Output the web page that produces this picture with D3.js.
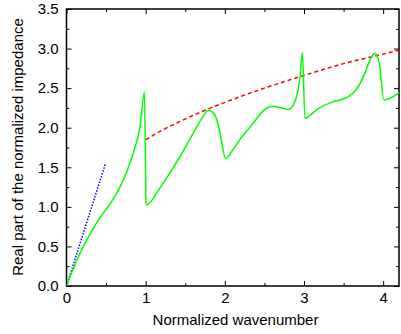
<!DOCTYPE html>
<html>
<head>
<meta charset="utf-8">
<script src="https://cdn.jsdelivr.net/npm/d3@7"></script>
<style>
  html, body { margin: 0; padding: 0; background: #fff; }
  svg { display: block; }
  text { font-family: "Liberation Sans", Arial, sans-serif; fill: #000; }
</style>
</head>
<body>
<svg id="chart" width="401" height="334"></svg>
<script>
// ---- data ----
const greenX = [0, 0.086, 0.17, 0.255, 0.34, 0.42, 0.51, 0.59, 0.675, 0.76, 0.84, 0.93, 0.985, 1.005, 1.012,
  1.18, 1.3, 1.43, 1.60, 1.73, 1.79, 1.875, 1.94, 2.01, 2.1, 2.19, 2.36, 2.49, 2.61, 2.72, 2.80, 2.885, 2.95, 2.98,
  3.012, 3.16, 3.37, 3.54, 3.66, 3.77, 3.85, 3.90, 3.95, 4.01, 4.2];
const greenY = [0, 0.22, 0.41, 0.58, 0.73, 0.86, 0.98, 1.10, 1.25, 1.44, 1.67, 2.02, 2.45, 1.05, 1.025,
  1.24, 1.42, 1.63, 1.93, 2.15, 2.22, 2.16, 1.93, 1.61, 1.72, 1.85, 2.06, 2.22, 2.27, 2.25, 2.23, 2.33, 2.65, 2.95,
  2.12, 2.23, 2.33, 2.38, 2.48, 2.69, 2.89, 2.94, 2.82, 2.35, 2.44];
const redX = [1.0, 1.25, 1.5, 1.75, 2.0, 2.5, 3.0, 3.5, 4.0, 4.2];
const redY = [1.85, 1.99, 2.11, 2.22, 2.32, 2.50, 2.66, 2.81, 2.93, 2.98];
const blueX = [0, 0.49];
const blueY = [0, 1.54];
const xTicks = [0, 1, 2, 3, 4];
const xMinorTicks = [0.5, 1.5, 2.5, 3.5];
const yTicks = [0, 0.5, 1.0, 1.5, 2.0, 2.5, 3.0, 3.5];
const yMinorTicks = [0.25, 0.75, 1.25, 1.75, 2.25, 2.75, 3.25];
const xLabel = "Normalized wavenumber";
const yLabel = "Real part of the normalized impedance";

// ---- chart ----
const svg = d3.select("#chart");
const L = 66.5, R = 399, T = 9, B = 286;
const x = d3.scaleLinear().domain([0, 4.2]).range([L, R]);
const y = d3.scaleLinear().domain([0, 3.5]).range([B, T]);

function styleAxis(g) {
  g.select(".domain").remove();
  g.selectAll("line").attr("stroke", "#000").attr("stroke-width", 1);
  g.selectAll("text").style("font-size", "15px").style("font-family", '"Liberation Sans", Arial, sans-serif');
}

// bottom
svg.append("g").attr("transform", `translate(0,${B})`)
  .call(d3.axisBottom(x).tickValues(xTicks).tickFormat(d3.format("d")).tickSize(-5).tickPadding(6))
  .call(styleAxis);
svg.append("g").attr("transform", `translate(0,${B})`)
  .call(d3.axisBottom(x).tickValues(xMinorTicks).tickFormat("").tickSize(-3))
  .call(styleAxis);
// top
svg.append("g").attr("transform", `translate(0,${T})`)
  .call(d3.axisTop(x).tickValues(xTicks).tickFormat("").tickSize(-5))
  .call(styleAxis);
svg.append("g").attr("transform", `translate(0,${T})`)
  .call(d3.axisTop(x).tickValues(xMinorTicks).tickFormat("").tickSize(-3))
  .call(styleAxis);
// left
svg.append("g").attr("transform", `translate(${L},0)`)
  .call(d3.axisLeft(y).tickValues(yTicks).tickFormat(d3.format(".1f")).tickSize(-5).tickPadding(8))
  .call(styleAxis);
svg.append("g").attr("transform", `translate(${L},0)`)
  .call(d3.axisLeft(y).tickValues(yMinorTicks).tickFormat("").tickSize(-3))
  .call(styleAxis);
// right
svg.append("g").attr("transform", `translate(${R},0)`)
  .call(d3.axisRight(y).tickValues(yTicks).tickFormat("").tickSize(-5))
  .call(styleAxis);
svg.append("g").attr("transform", `translate(${R},0)`)
  .call(d3.axisRight(y).tickValues(yMinorTicks).tickFormat("").tickSize(-3))
  .call(styleAxis);

// frame
svg.append("rect").attr("x", L).attr("y", T).attr("width", R - L).attr("height", B - T)
  .attr("fill", "none").attr("stroke", "#000").attr("stroke-width", 1.5);

svg.append("clipPath").attr("id", "clip").append("rect")
  .attr("x", L).attr("y", T).attr("width", R - L).attr("height", B - T);

const plot = svg.append("g").attr("clip-path", "url(#clip)");

const straight = d3.line().x(d => x(d[0])).y(d => y(d[1]));
const smooth = d3.line().x(d => x(d[0])).y(d => y(d[1])).curve(d3.curveMonotoneX);

plot.append("path").datum(blueX.map((v, i) => [v, blueY[i]]))
  .attr("d", straight).attr("fill", "none").attr("stroke", "#0000ff")
  .attr("stroke-width", 1.5).attr("stroke-dasharray", "1.5,1.5");

plot.append("path").datum(redX.map((v, i) => [v, redY[i]]))
  .attr("d", smooth).attr("fill", "none").attr("stroke", "#ff0000")
  .attr("stroke-width", 1.5).attr("stroke-dasharray", "4,3");

plot.append("path").datum(greenX.map((v, i) => [v, greenY[i]]))
  .attr("d", smooth).attr("fill", "none").attr("stroke", "#00ff00").attr("stroke-width", 1.5);

// labels
svg.append("text").attr("x", 235.5).attr("y", 325).attr("text-anchor", "middle")
  .style("font-size", "15px").text(xLabel);
svg.append("text").attr("transform", `translate(23,147) rotate(-90)`).attr("text-anchor", "middle")
  .style("font-size", "15px").text(yLabel);
</script>
</body>
</html>
